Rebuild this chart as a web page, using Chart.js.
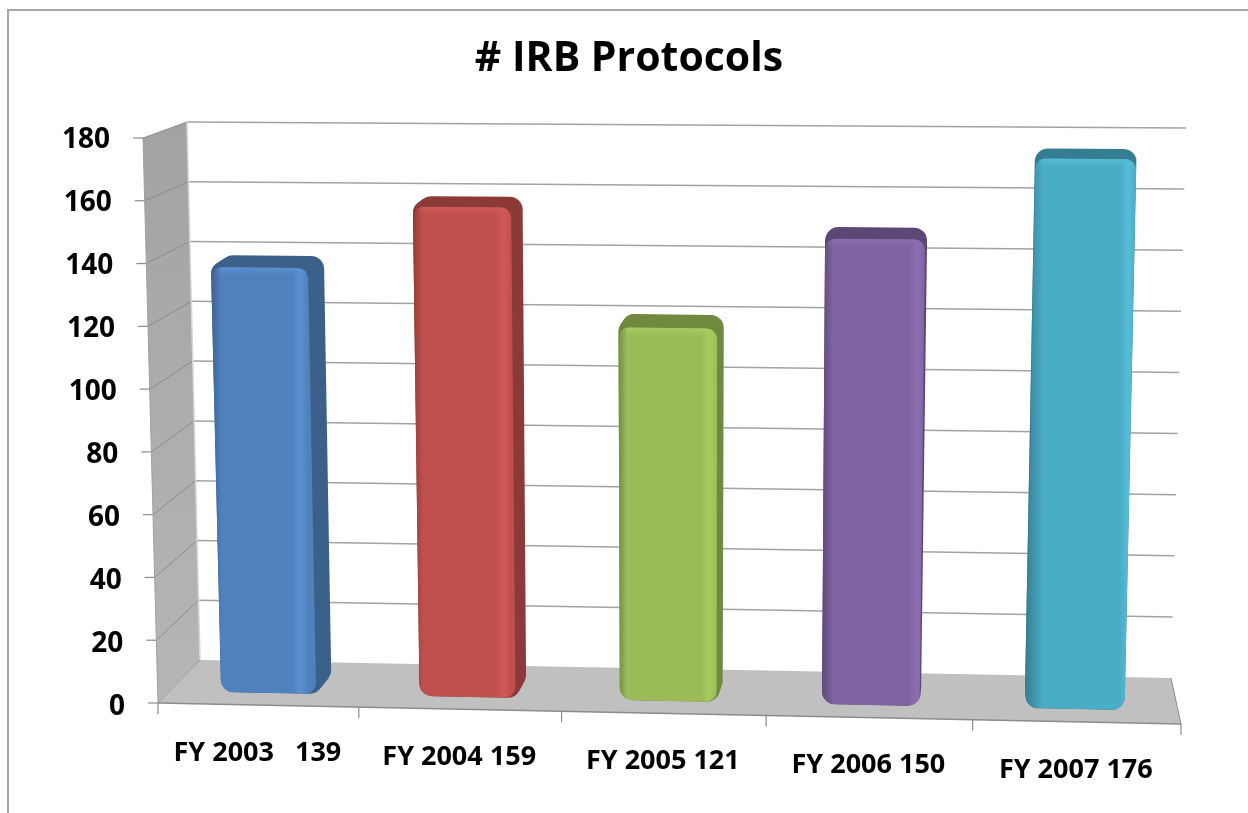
<!DOCTYPE html>
<html><head><meta charset="utf-8">
<style>html,body{margin:0;padding:0;background:#fff}canvas{display:block}</style>
<script src="https://cdn.jsdelivr.net/npm/chart.js@4/dist/chart.umd.min.js"></script>
</head><body><canvas id="c" width="1248" height="813"></canvas>
<script>
const titleText = '# IRB Protocols';
const categories = ['FY 2003   139','FY 2004 159','FY 2005 121','FY 2006 150','FY 2007 176'];
const protocols = [139,159,121,150,176];
const faceColors = ['#4f81bd','#c0504d','#9bbb59','#8064a2','#4bacc6'];
const darkColors = ['#3b6089','#8b3a38','#71893f','#5c4776','#357d91'];
const lightColors = ['#5c90d0','#d05a56','#a8cc60','#8c6fb2','#55bdd8'];
const FONT = '"Open Sans", sans-serif';

// 3D frame of the plot box (projection of the unit cube)
const box = {
  fb:[158,703], ft:[143,138], bb:[200,660], bt:[187,122],
  rbb:[1171,678], rbt:[1186,128], rfb:[1181,724], rft:[1194,146]
};
const warp = s => s*(0.977+0.023*s);
function P(s0,d,v){
  const s = warp(s0), out=[];
  for(let k=0;k<2;k++){
    const l0 = box.fb[k]+(box.ft[k]-box.fb[k])*v, l1 = box.bb[k]+(box.bt[k]-box.bb[k])*v;
    const r0 = box.rfb[k]+(box.rft[k]-box.rfb[k])*v, r1 = box.rbb[k]+(box.rbt[k]-box.rbb[k])*v;
    const l = l0+(l1-l0)*d, r = r0+(r1-r0)*d;
    out.push(l+(r-l)*s);
  }
  return out;
}
function poly(ctx,pts,fill){ctx.beginPath();pts.forEach((p,i)=>i?ctx.lineTo(p[0],p[1]):ctx.moveTo(p[0],p[1]));ctx.closePath();if(fill){ctx.fillStyle=fill;ctx.fill();}}
function line(ctx,a,b,c,w){ctx.beginPath();ctx.moveTo(a[0],a[1]);ctx.lineTo(b[0],b[1]);ctx.strokeStyle=c;ctx.lineWidth=w;ctx.stroke();}
function roundPoly(ctx,pts,r){
  const n=pts.length, m=[(pts[n-1][0]+pts[0][0])/2,(pts[n-1][1]+pts[0][1])/2];
  ctx.beginPath();ctx.moveTo(m[0],m[1]);
  for(let i=0;i<n;i++){const a=pts[i],b=pts[(i+1)%n];ctx.arcTo(a[0],a[1],b[0],b[1],r);}
  ctx.closePath();
}
function hull(points){
  const p=points.slice().sort((a,b)=>a[0]-b[0]||a[1]-b[1]);
  const cr=(o,a,b)=>(a[0]-o[0])*(b[1]-o[1])-(a[1]-o[1])*(b[0]-o[0]);
  const lo=[],up=[];
  for(const q of p){while(lo.length>1&&cr(lo[lo.length-2],lo[lo.length-1],q)<=0)lo.pop();lo.push(q);}
  for(const q of p.slice().reverse()){while(up.length>1&&cr(up[up.length-2],up[up.length-1],q)<=0)up.pop();up.push(q);}
  return lo.slice(0,-1).concat(up.slice(0,-1));
}
const D0=0.28, D1=0.72;
const down=(p,dy)=>[p[0],p[1]+dy];

const frame3d = {
  id:'frame3d',
  afterLayout(chart){ chart.titleBlock.left=10; chart.titleBlock.right=1248; },
  beforeDraw(chart){
    const {x,y}=chart.scales;
    const span=y.bottom-y.top;
    y.getLabelItems(chart.chartArea).forEach((it,i)=>{
      if(it._moved) return; it._moved=true;
      const v=(y.bottom-y.getPixelForValue(y.ticks[i].value))/span;
      it.options.translation[0]=P(0,0,v)[0]-33;
      it.options.translation[1]+=2+2.5*(1-v);
    });
    const w=x.right-x.left;
    x.getLabelItems(chart.chartArea).forEach((it,i)=>{
      if(it._moved) return; it._moved=true;
      const s0=(x.getPixelForValue(i-0.5)-x.left)/w, s1=(x.getPixelForValue(i+0.5)-x.left)/w;
      const a=P(s0,0,0), b=P(s1,0,0);
      it.options.translation[0]=(a[0]+b[0])/2-1;
      it.options.translation[1]=(a[1]+b[1])/2+32;
    });
  },
  beforeDatasetsDraw(chart){
    const ctx=chart.ctx,{x,y}=chart.scales;
    ctx.save();
    // outer chart frame
    ctx.strokeStyle='#a6a6a6';ctx.lineWidth=2;
    ctx.beginPath();ctx.moveTo(8,813);ctx.lineTo(8,10);ctx.lineTo(1248,10);ctx.stroke();
    // left wall
    const g=ctx.createLinearGradient(0,122,0,703);g.addColorStop(0,'#a3a3a3');g.addColorStop(1,'#b6b6b6');
    poly(ctx,[P(0,0,0),P(0,0,1),P(0,1,1),P(0,1,0)],g);
    // floor
    poly(ctx,[P(0,0,0),P(0,1,0),P(1,1,0),P(1,0,0)],'#c0c0c0');
    const span=y.bottom-y.top;
    y.ticks.forEach(t=>{
      const v=(y.bottom-y.getPixelForValue(t.value))/span;
      if(v>0){
        line(ctx,P(0,0,v),P(0,1,v),'#8c8c8c',1);
        line(ctx,P(0,1,v),P(1,1,v),'#a3a3a3',1.5);
      }
      const a=P(0,0,v);
      line(ctx,[a[0]-10,a[1]],a,'#8c8c8c',1.2);
    });
    line(ctx,P(0,1,1),P(0,1,0),'#d8d8d8',1.5);
    line(ctx,P(0,0,0),P(0,1,0),'#9a9a9a',1);
    line(ctx,P(1,0,0),P(1,1,0),'#8c8c8c',1);
    line(ctx,P(0,0,0),P(1,0,0),'#8c8c8c',1.4);
    line(ctx,P(0,0,0),P(0,0,1),'#a0a0a0',1);
    const w=x.right-x.left;
    for(let i=0;i<=categories.length;i++){
      const a=P((x.getPixelForValue(i-0.5)-x.left)/w,0,0);
      line(ctx,a,[a[0],a[1]+11],'#8c8c8c',1.2);
    }
    ctx.restore();
  },
  beforeDatasetDraw(chart,args){
    const ctx=chart.ctx,{x,y}=chart.scales,meta=args.meta;
    const w=x.right-x.left;
    const base=y.getPixelForValue(0), top=y.getPixelForValue(180);
    meta.data.forEach((el,i)=>{
      const p=el.getProps(['x','y','width'],true);
      const s0=(p.x-p.width/2-x.left)/w, s1=(p.x+p.width/2-x.left)/w;
      const v=(base-p.y)/(base-top);
      const fbl=P(s0,D0,0),fbr=P(s1,D0,0),ftl=down(P(s0,D0,v),6),ftr=down(P(s1,D0,v),6);
      const bbl=P(s0,D1,0),bbr=P(s1,D1,0),btl=down(P(s0,D1,v),4),btr=down(P(s1,D1,v),4);
      const pts=[fbl,fbr,ftl,ftr,bbl,bbr,btl,btr];
      ctx.save();
      ctx.filter='blur(0.6px)';
      roundPoly(ctx,hull(pts),13);
      ctx.clip();
      ctx.fillStyle=darkColors[i];ctx.fillRect(0,0,1248,813);
      // front face
      roundPoly(ctx,[ftl,ftr,fbr,fbl],11);
      const gx=ctx.createLinearGradient(ftl[0],0,ftr[0],0);
      gx.addColorStop(0,faceColors[i]);
      gx.addColorStop(0.84,faceColors[i]);gx.addColorStop(0.92,lightColors[i]);
      gx.addColorStop(1,faceColors[i]);
      ctx.fillStyle=gx;ctx.fill();
      ctx.save();ctx.clip();
      // highlight under top edge
      const gy=ctx.createLinearGradient(0,ftl[1],0,ftl[1]+9);
      gy.addColorStop(0,lightColors[i]);gy.addColorStop(1,lightColors[i]+'00');
      ctx.fillStyle=gy;ctx.fillRect(ftl[0],ftl[1],ftr[0]-ftl[0],9);
      ctx.restore();
      // dark edge on the left, stronger towards the right of the chart
      const lx=Math.min(ftl[0],fbl[0])-1, edge=5+s0*9;
      const gs=ctx.createLinearGradient(lx,0,lx+edge+Math.abs(ftl[0]-fbl[0])*0.6,0);
      gs.addColorStop(0,darkColors[i]);gs.addColorStop(1,darkColors[i]+'00');
      ctx.fillStyle=gs;ctx.fillRect(lx-2,0,edge+Math.abs(ftl[0]-fbl[0])+4,813);
      ctx.restore();
    });
    return false;
  }
};

new Chart(document.getElementById('c'),{
  type:'bar',
  data:{labels:categories,datasets:[{data:protocols,backgroundColor:faceColors,categoryPercentage:1,barPercentage:0.48}]},
  options:{
    responsive:false,animation:false,
    layout:{padding:{left:0,right:67,top:0,bottom:0}},
    plugins:{
      legend:{display:false},tooltip:{enabled:false},
      title:{display:true,text:titleText,color:'#000',font:{family:FONT,size:41,weight:'bold',lineHeight:1.2},padding:{top:35,bottom:53.8}}
    },
    scales:{
      x:{grid:{display:false},border:{display:false},
         ticks:{color:'#000',maxRotation:0,minRotation:0,autoSkip:false,font:{family:FONT,size:27,weight:'bold'}},
         afterFit(s){s.height=110;}},
      y:{min:0,max:180,grid:{display:false},border:{display:false},
         ticks:{stepSize:20,color:'#000',font:{family:FONT,size:28,weight:'bold'}},
         afterFit(s){s.width=158;}}
    }
  },
  plugins:[frame3d]
});
</script></body></html>
